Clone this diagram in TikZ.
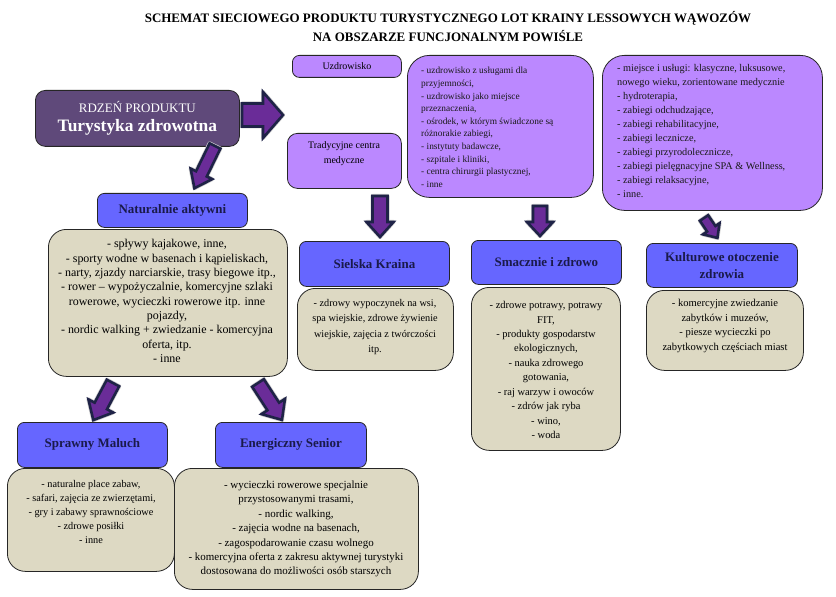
\documentclass[tikz,border=0pt]{standalone}
\usepackage{fontspec}
\setmainfont{Liberation Serif}
\definecolor{core}{HTML}{5F497A}
\definecolor{blu}{HTML}{6666FF}
\definecolor{beige}{HTML}{DDD9C3}
\definecolor{lpur}{HTML}{BB88FF}
\definecolor{navy}{HTML}{1F2347}
\definecolor{apur}{HTML}{6A2C98}
\definecolor{txtnavy}{HTML}{1A1A4A}
\tikzset{
 box/.style={draw=black!85, line width=0.8bp, inner sep=0pt, anchor=north west},
 corebox/.style={box, fill=core, rounded corners=10bp},
 bluebox/.style={box, fill=blu, rounded corners=7bp, font=\fontsize{13}{17}\selectfont\bfseries, text=txtnavy, align=center},
 beigebox/.style={box, fill=beige, rounded corners=18bp},
 purbox/.style={box, fill=lpur, rounded corners=7bp, font=\fontsize{10}{15}\selectfont, align=center},
 bigpur/.style={box, fill=lpur, rounded corners=22bp},
 bodytxt/.style={font=\fontsize{10.5}{14.5}\selectfont, align=center, inner sep=0pt},
 listtxt/.style={align=left, inner sep=0pt, anchor=north west, text=black!90},
 pics/barrow/.style n args={4}{code={
   \path[draw=gray!40, line width=4bp, line join=round]
     (0,-#3) -- ({#1-#4},-#3) -- ({#1-#4},-#2) -- (#1,0) -- ({#1-#4},#2) -- ({#1-#4},#3) -- (0,#3) -- cycle;
   \path[draw=navy, line width=2.6bp, line join=miter, miter limit=3, fill=apur]
     (0,-#3) -- ({#1-#4},-#3) -- ({#1-#4},-#2) -- (#1,0) -- ({#1-#4},#2) -- ({#1-#4},#3) -- (0,#3) -- cycle;
 }}
}
\begin{document}
\begin{tikzpicture}[x=1bp, y=-1bp]
\useasboundingbox[fill=white] (0,0) rectangle (836,597);

\node[font=\fontsize{13}{19}\selectfont\bfseries, align=center] (title) at (448,27)
 {SCHEMAT SIECIOWEGO PRODUKTU TURYSTYCZNEGO LOT KRAINY LESSOWYCH WĄWOZÓW\\NA OBSZARZE FUNCJONALNYM POWIŚLE};

% core
\node[corebox, minimum width=204bp, minimum height=56bp, text=white, align=center] (core) at (35,90)
 {{\fontsize{13}{15}\selectfont RDZEŃ PRODUKTU}\\[5bp]{\fontsize{17.5}{20}\selectfont\bfseries Turystyka zdrowotna}};

% purple boxes
\node[purbox, minimum width=109bp, minimum height=22bp] (uzd) at (292,55) {Uzdrowisko};
\node[purbox, minimum width=114bp, minimum height=55bp, rounded corners=10bp] (trad) at (287,133) {};
\node[font=\fontsize{10}{15}\selectfont, align=center, inner sep=0pt] (tradtxt) at (344,154) {Tradycyjne centra\\medyczne};

\node[bigpur, minimum width=186bp, minimum height=142bp] (big1) at (407,55) {};
\begin{scope}
\clip[rounded corners=22bp] (407,55) rectangle (593,197);
\node[listtxt, font=\fontsize{9.4}{12.7}\selectfont] (big1txt) at (421,67)
 {- uzdrowisko z usługami dla\\przyjemności,\\- uzdrowisko jako miejsce\\przeznaczenia,\\- ośrodek, w którym świadczone są\\różnorakie zabiegi,\\- instytuty badawcze,\\- szpitale i kliniki,\\- centra chirurgii plastycznej,\\- inne};
\end{scope}

\node[bigpur, minimum width=220bp, minimum height=155bp] (big2) at (602,55) {};
\node[listtxt, font=\fontsize{10.3}{14.1}\selectfont] (big2txt) at (617,64)
 {- miejsce i usługi: klasyczne, luksusowe,\\nowego wieku, zorientowane medycznie\\- hydroterapia,\\- zabiegi odchudzające,\\- zabiegi rehabilitacyjne,\\- zabiegi lecznicze,\\- zabiegi przyrodolecznicze,\\- zabiegi pielęgnacyjne SPA \& Wellness,\\- zabiegi relaksacyjne,\\- inne.};

% Naturalnie aktywni
\node[bluebox, minimum width=150bp, minimum height=34bp] (nat) at (97,193) {Naturalnie aktywni};
\node[beigebox, minimum width=239bp, minimum height=147bp] (natb) at (48,229) {};
\node[bodytxt, font=\fontsize{12}{14.4}\selectfont] (natt) at (167,301)
 {- spływy kajakowe, inne,\\- sporty wodne w basenach i kąpieliskach,\\- narty, zjazdy narciarskie, trasy biegowe itp.,\\- rower – wypożyczalnie, komercyjne szlaki\\rowerowe, wycieczki rowerowe itp. inne\\pojazdy,\\- nordic walking + zwiedzanie - komercyjna\\oferta, itp.\\- inne};

% Sielska Kraina
\node[bluebox, minimum width=150bp, minimum height=45bp] (siel) at (299,241) {Sielska Kraina};
\node[beigebox, minimum width=156bp, minimum height=82bp] (sielb) at (297,288) {};
\node[bodytxt, font=\fontsize{10.3}{15.2}\selectfont] (sielt) at (375,327)
 {- zdrowy wypoczynek na wsi,\\spa wiejskie, zdrowe żywienie\\wiejskie, zajęcia z twórczości\\itp.};

% Smacznie i zdrowo
\node[bluebox, minimum width=150bp, minimum height=44bp] (smac) at (471,240) {Smacznie i zdrowo};
\node[beigebox, minimum width=149bp, minimum height=163bp] (smacb) at (471,287) {};
\node[bodytxt] (smact) at (546,370)
 {- zdrowe potrawy, potrawy\\FIT,\\- produkty gospodarstw\\ekologicznych,\\- nauka zdrowego\\gotowania,\\- raj warzyw i owoców\\- zdrów jak ryba\\- wino,\\- woda};

% Kulturowe otoczenie zdrowia
\node[bluebox, minimum width=151bp, minimum height=44bp] (kult) at (646,243) {Kulturowe otoczenie\\zdrowia};
\node[beigebox, minimum width=157bp, minimum height=80bp] (kultb) at (646,290) {};
\node[bodytxt, font=\fontsize{10.6}{15}\selectfont] (kultt) at (725,326)
 {- komercyjne zwiedzanie\\zabytków i muzeów,\\- piesze wycieczki po\\zabytkowych częściach miast};

% Sprawny Maluch
\node[bluebox, minimum width=150bp, minimum height=45bp] (spr) at (17,422) {Sprawny Maluch};
\node[beigebox, minimum width=167bp, minimum height=103bp] (sprb) at (7,468) {};
\node[bodytxt, font=\fontsize{10.3}{14.2}\selectfont] (sprt) at (91,512)
 {- naturalne place zabaw,\\- safari, zajęcia ze zwierzętami,\\- gry i zabawy sprawnościowe\\- zdrowe posiłki\\- inne};

% Energiczny Senior
\node[bluebox, minimum width=151bp, minimum height=45bp] (ener) at (215,422) {Energiczny Senior};
\node[beigebox, minimum width=244bp, minimum height=121bp] (enerb) at (174,468) {};
\node[bodytxt, font=\fontsize{11}{14.5}\selectfont] (enert) at (296,529)
 {- wycieczki rowerowe specjalnie\\przystosowanymi trasami,\\- nordic walking,\\- zajęcia wodne na basenach,\\- zagospodarowanie czasu wolnego\\- komercyjna oferta z zakresu aktywnej turystyki\\dostosowana do możliwości osób starszych};

% block arrows
\pic (arR) at (242,115) {barrow={41}{23}{11.5}{20}};
\pic[rotate=-116] (arD) at (215,146) {barrow={47}{12}{6}{16}};
\pic[rotate=-90] (arS) at (380,196) {barrow={41}{13.5}{7.5}{15}};
\pic[rotate=-90] (arM) at (540,206) {barrow={30}{13}{7}{14}};
\pic[rotate=-56] (arK) at (704,218) {barrow={24}{10}{5}{11}};
\pic[rotate=-118] (arL) at (113,383) {barrow={42}{14}{7}{16}};
\pic[rotate=-57] (arE) at (258,383) {barrow={44}{14}{7}{16}};
\end{tikzpicture}
\end{document}
